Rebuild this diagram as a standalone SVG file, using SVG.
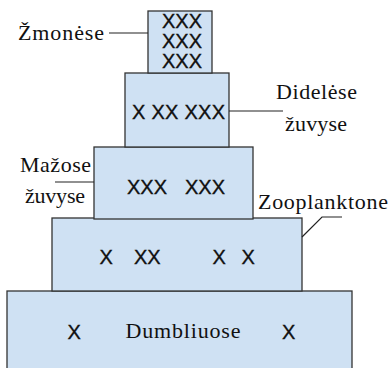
<svg xmlns="http://www.w3.org/2000/svg" width="392" height="368" viewBox="0 0 392 368">
  <style>
    .tier { fill: #cfe1f3; stroke: #333; stroke-width: 1.3; }
    .mark { font-family: "Liberation Sans", Arial, sans-serif; font-size: 20px; fill: #111; stroke: #111; stroke-width: 0.35; }
    .label { font-family: "Liberation Serif", "Times New Roman", serif; font-size: 22px; fill: #111; }
    .leader { fill: none; stroke: #222; stroke-width: 1.2; }
  </style>
  <rect width="392" height="368" fill="#fff"/>

  <!-- bottom tier: algae -->
  <g id="dumbliuose">
    <rect class="tier" x="7" y="291" width="345" height="82"/>
    <text class="mark" x="67.5" y="339">X</text>
    <text class="label" x="125.5" y="338" textLength="115" lengthAdjust="spacing">Dumbliuose</text>
    <text class="mark" x="282" y="339">X</text>
  </g>

  <!-- zooplankton tier -->
  <g id="zooplanktone">
    <rect class="tier" x="52" y="218" width="250" height="73"/>
    <text class="mark" x="99.5" y="264">X</text>
    <text class="mark" x="134" y="264">XX</text>
    <text class="mark" x="212.5" y="264">X</text>
    <text class="mark" x="241.5" y="264">X</text>
  </g>

  <!-- small fish tier -->
  <g id="mazose-zuvyse">
    <rect class="tier" x="94" y="147" width="159" height="72"/>
    <text class="mark" x="127" y="194">XXX</text>
    <text class="mark" x="185" y="194">XXX</text>
  </g>

  <!-- large fish tier -->
  <g id="dideles-zuvyse">
    <rect class="tier" x="125" y="73" width="104" height="74"/>
    <text class="mark" x="178.5" y="119" text-anchor="middle" textLength="93" lengthAdjust="spacing">X XX XXX</text>
  </g>

  <!-- top tier: people -->
  <g id="zmonese">
    <rect class="tier" x="148" y="11" width="64" height="62"/>
    <text class="mark" x="182" y="28" text-anchor="middle">XXX</text>
    <text class="mark" x="182" y="48" text-anchor="middle">XXX</text>
    <text class="mark" x="182" y="68" text-anchor="middle">XXX</text>
  </g>

  <!-- leader lines from labels to tiers -->
  <g id="connectors">
    <line class="leader" x1="109" y1="33" x2="148" y2="33"/>
    <line class="leader" x1="229" y1="111" x2="283" y2="111"/>
    <line class="leader" x1="55" y1="182" x2="94" y2="182"/>
    <polyline class="leader" points="302,237 322,217 342,217"/>
  </g>

  <!-- side labels -->
  <g id="labels">
    <text class="label" x="18" y="40" textLength="86" lengthAdjust="spacing">Žmonėse</text>
    <text class="label" x="276" y="99" textLength="81" lengthAdjust="spacing">Didelėse</text>
    <text class="label" x="285" y="131" textLength="62" lengthAdjust="spacing">žuvyse</text>
    <text class="label" x="20" y="172" textLength="71" lengthAdjust="spacing">Mažose</text>
    <text class="label" x="25" y="203" textLength="60" lengthAdjust="spacing">žuvyse</text>
    <text class="label" x="258" y="209" textLength="130" lengthAdjust="spacing">Zooplanktone</text>
  </g>
</svg>
